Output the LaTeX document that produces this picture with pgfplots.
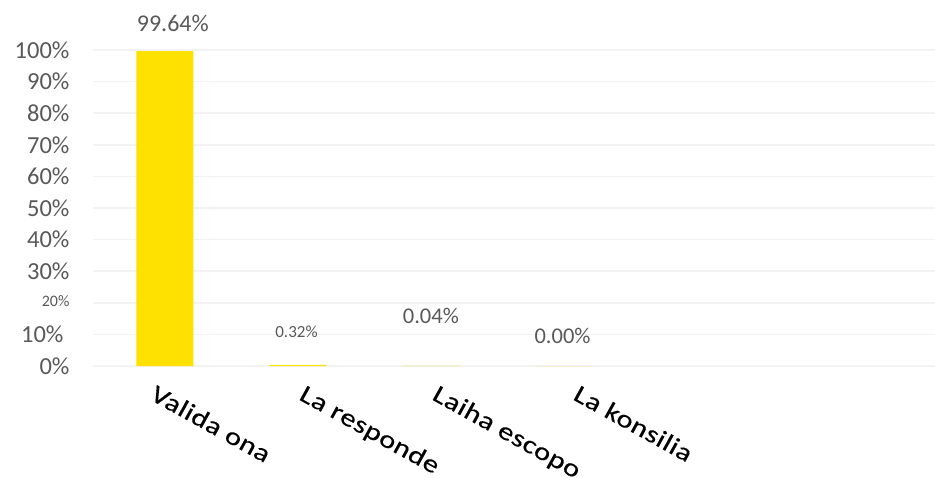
\documentclass[border=0pt]{standalone}
\usepackage{pgfplots}
\pgfplotsset{compat=1.18}
\usepackage{fontspec}
\setmainfont{Carlito}
\newfontfamily\xfont[FakeStretch=1.22,LetterSpace=2,FakeBold=0.4]{Carlito}
\definecolor{baryellow}{HTML}{FFE100}
\definecolor{txtgray}{HTML}{595959}
\definecolor{gridgray}{HTML}{F2F2F2}
\begin{document}
\begin{tikzpicture}
\begin{axis}[
  scale only axis,
  width=842pt, height=316pt,
  ymin=0, ymax=100,
  xmin=-0.54, xmax=5.79,
  axis line style={draw=none},
  major tick length=0pt,
  ytick={0,10,20,30,40,50,60,70,80,90,100},
  yticklabels={0\%,{10\%\hspace*{6pt}},{\fontsize{16}{16}\selectfont\raisebox{4pt}{20\%}},30\%,40\%,50\%,60\%,70\%,80\%,90\%,100\%},
  yticklabel style={font=\fontsize{24.5}{24.5}\selectfont, text=txtgray, anchor=east, xshift=-20pt},
  ymajorgrids,
  grid style={draw=gridgray, line width=1.5pt},
  xtick={0,1.12,2.12,3.18},
  xticklabels={Valida ona,La responde,Laiha escopo,La konsilia},
  xticklabel style={font=\xfont\fontsize{25}{25}\selectfont, text=black, rotate=-29, anchor=north west, xshift=2pt, yshift=-19pt, inner sep=0pt},
  /pgf/number format/assume math mode=true,
  clip=false,
]
\addplot[ybar, bar width=57pt, fill=baryellow, draw=none] coordinates {(0,99.64) (1,0.32) (2,0.04) (3,0.00)};
\node[text=txtgray, font=\fontsize{24}{24}\selectfont] at (axis cs:0.06,108.5) {99.64\%};
\node[text=txtgray, font=\fontsize{17}{17}\selectfont] at (axis cs:0.99,10.8) {0.32\%};
\node[text=txtgray, font=\fontsize{22.5}{22.5}\selectfont] at (axis cs:2.0,15.8) {0.04\%};
\node[text=txtgray, font=\fontsize{22.5}{22.5}\selectfont] at (axis cs:2.99,9.5) {0.00\%};
\end{axis}
\pgfresetboundingbox
\useasboundingbox (-93pt,-111pt) rectangle (842pt,366pt);
\end{tikzpicture}
\end{document}
